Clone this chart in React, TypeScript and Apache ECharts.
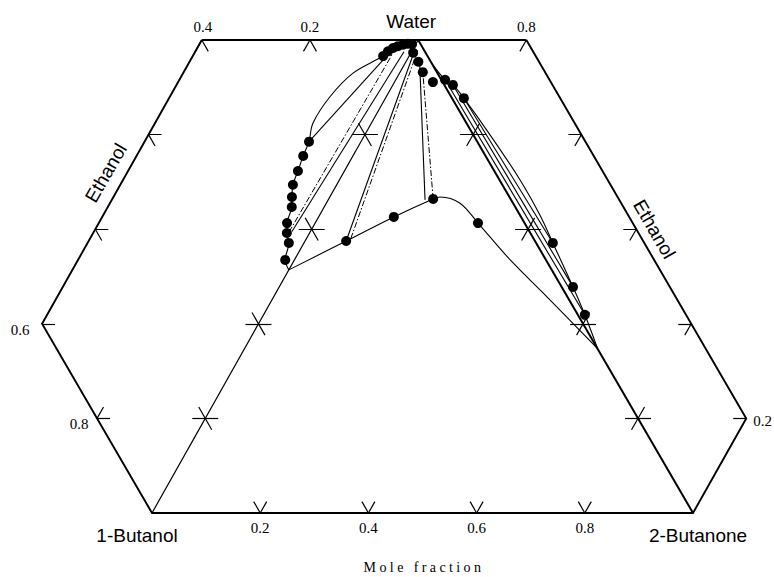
import React, { useEffect, useRef } from "react";
import * as echarts from "echarts";

// ---- Geometry of the folded ternary layout (cartesian units, side = 1) ----
const H = 0.866;
const W_X = 0.492; // x of the Water apex

// ---- DATA (mole fractions) ----
// Left triangle: Water / Ethanol / 1-Butanol  -> [water, ethanol]
const leftAqueousDots: number[][] = [
  [0.918, 0.048], [0.932, 0.044], [0.945, 0.038], [0.956, 0.031],
  [0.967, 0.023], [0.977, 0.015], [0.984, 0.007],
];
const leftOrganicDots: number[][] = [
  [0.689, 0.096], [0.663, 0.092], [0.637, 0.086], [0.613, 0.081], [0.598, 0.07],
  [0.587, 0.06], [0.561, 0.052], [0.55, 0.042], [0.543, 0.028], [0.518, 0.017],
];
const leftBinodal: number[][] = [
  [0.99, 0.0], [0.984, 0.007], [0.977, 0.015], [0.967, 0.023], [0.956, 0.031],
  [0.945, 0.038], [0.932, 0.044], [0.918, 0.048], [0.844, 0.086], [0.776, 0.104],
  [0.716, 0.108], [0.689, 0.096], [0.663, 0.092], [0.637, 0.086], [0.613, 0.081],
  [0.598, 0.07], [0.587, 0.06], [0.561, 0.052], [0.55, 0.042], [0.543, 0.028],
  [0.518, 0.017], [0.514, 0.0],
];
const leftTieExp: number[][][] = [
  [[0.689, 0.096], [0.914, 0.044]],
  [[0.561, 0.034], [0.961, 0.014]],
];
const leftTieCalc: number[][][] = [
  [[0.555, 0.039], [0.936, 0.033]],
];

// Central triangle: Water / 1-Butanol / 2-Butanone -> [water, 2-butanone]
const centralDots: number[][] = [
  [0.575, 0.076], [0.626, 0.139], [0.664, 0.193], [0.613, 0.301],
];
const centralAqueousDots: number[][] = [
  [0.973, 0.004], [0.954, 0.023], [0.932, 0.042], [0.911, 0.071],
];
const centralBinodal: number[][] = [
  [0.514, 0.0], [0.575, 0.076], [0.626, 0.139], [0.664, 0.193], [0.668, 0.204],
  [0.655, 0.247], [0.613, 0.301], [0.535, 0.399], [0.455, 0.508], [0.348, 0.652],
];
const centralTieExp: number[][][] = [
  [[0.575, 0.076], [0.98, 0.004]],
  [[0.662, 0.179], [0.947, 0.029]],
];
const centralTieCalc: number[][][] = [
  [[0.58, 0.082], [0.978, 0.01]],
  [[0.664, 0.193], [0.932, 0.042]],
];

// Right triangle: Water / Ethanol / 2-Butanone -> [water, ethanol]
const rightAqueousDots: number[][] = [[0.909, 0.007], [0.889, 0.016], [0.855, 0.022]];
const rightOrganicDots: number[][] = [[0.54, 0.031], [0.457, 0.021], [0.406, 0.013]];
const rightBinodal: number[][] = [
  [0.95, 0.0], [0.909, 0.007], [0.889, 0.016], [0.855, 0.022], [0.768, 0.031],
  [0.666, 0.038], [0.593, 0.037], [0.54, 0.031], [0.457, 0.021], [0.406, 0.013],
  [0.347, 0.0],
];
const rightTieExp: number[][][] = [
  [[0.909, 0.007], [0.406, 0.013]],
  [[0.889, 0.016], [0.457, 0.021]],
  [[0.855, 0.022], [0.54, 0.031]],
];

// Axis tick fractions and labels
const bottomTicks = [0.2, 0.4, 0.6, 0.8];
const bottomTickLabels = ["0.2", "0.4", "0.6", "0.8"];
const edgeTicks = [0.2, 0.4, 0.6, 0.8];

// ---- composition -> cartesian ----
const leftXY = ([w, e]: number[]) => [w * W_X + e * (W_X - 1), (w + e) * H];
const centralXY = ([w, k]: number[]) => [k + w * W_X, w * H];
const rightXY = ([w, e]: number[]) => {
  const k = 1 - w - e;
  return [k + w * W_X + e * (W_X + 1), (w + e) * H];
};

export default function App() {
  const ref = useRef<HTMLDivElement>(null);
  useEffect(() => {
    if (!ref.current) return;
    const chart = echarts.init(ref.current, undefined, { renderer: "svg" });

    const B = centralXY([0, 0]);
    const K = centralXY([0, 1]);
    const W = centralXY([1, 0]);
    const TL = leftXY([0.6, 0.4]);
    const L = leftXY([0, 0.4]);
    const TR = rightXY([0.8, 0.2]);
    const R = rightXY([0, 0.2]);

    const T = 0.024; // tick length
    const dH = [1, 0];
    const dUR = [0.5, H];
    const dUL = [-0.5, H];
    const add = (p: number[], d: number[], s: number) => [p[0] + d[0] * s, p[1] + d[1] * s];
    const seg = (a: number[], b: number[]) => ({ coords: [a, b] });

    const ticks: any[] = [];
    bottomTicks.forEach((f) => {
      const p = [f, 0];
      ticks.push(seg(p, add(p, dUR, T)), seg(p, add(p, dUL, T)));
    });
    edgeTicks.forEach((f) => {
      const p = centralXY([f, 0]);
      ticks.push(seg(add(p, dH, -T), add(p, dH, T)), seg(add(p, dUL, -T), add(p, dUL, T)));
      const q = centralXY([f, 1 - f]);
      ticks.push(seg(add(q, dH, -T), add(q, dH, T)), seg(add(q, dUR, -T), add(q, dUR, T)));
    });
    [0.2, 0.4].forEach((e) => {
      const p = leftXY([1 - e, e]);
      ticks.push(seg(p, add(p, dUR, -T)), seg(p, add(p, dUL, -T)));
    });
    ticks.push(seg(TR, add(TR, dUR, -T)));
    [0.2, 0.4].forEach((w) => {
      const p = leftXY([w, 0.4]);
      ticks.push(seg(p, add(p, dH, T)), seg(p, add(p, dUL, -T)));
    });
    ticks.push(seg(L, add(L, dH, T)));
    {
      const p = leftXY([0, 0.2]);
      ticks.push(seg(p, add(p, dH, T)), seg(p, add(p, dUR, T)));
    }
    [0.2, 0.4, 0.6].forEach((w) => {
      const p = rightXY([w, 0.2]);
      ticks.push(seg(p, add(p, dH, -T)), seg(p, add(p, dUR, -T)));
    });
    ticks.push(seg(R, add(R, dH, -T)));

    const outer = [
      { coords: [TL, TR] },
      { coords: [TR, R, K, B, L, TL] },
    ];

    const tie = (arr: number[][][], fn: any) => arr.map((s) => ({ coords: s.map(fn) }));
    const curve = (arr: number[][], fn: any) => ({
      type: "line",
      data: arr.map(fn),
      smooth: 0.35,
      showSymbol: false,
      clip: false,
      lineStyle: { color: "#000", width: 1.1 },
      silent: true,
    });
    const dots = (arr: number[][], fn: any) => ({
      type: "scatter",
      data: arr.map(fn),
      symbolSize: 10,
      itemStyle: { color: "#000", opacity: 1 },
      clip: false,
      silent: true,
      z: 5,
    });
    const edge = (a: number[], b: number[], width: number) => ({
      type: "lines",
      coordinateSystem: "cartesian2d",
      data: [{ coords: [a, b] }],
      lineStyle: { color: "#000", width, opacity: 1 },
      silent: true,
    });

    chart.setOption({
      animation: false,
      grid: { left: 41.1, right: 26.9, top: 40, bottom: 64 },
      xAxis: { type: "value", min: -0.205, max: 1.1, show: false },
      yAxis: { type: "value", min: 0, max: H, show: false },
      series: [
        {
          type: "lines",
          coordinateSystem: "cartesian2d",
          polyline: true,
          data: outer,
          lineStyle: { color: "#000", width: 1.9, opacity: 1 },
          silent: true,
        },
        edge(B, W, 1.2),
        edge(W, K, 2),
        {
          type: "lines",
          coordinateSystem: "cartesian2d",
          data: ticks,
          lineStyle: { color: "#000", width: 1.2, opacity: 1 },
          silent: true,
        },
        {
          type: "lines",
          coordinateSystem: "cartesian2d",
          data: [...tie(leftTieExp, leftXY), ...tie(centralTieExp, centralXY), ...tie(rightTieExp, rightXY)],
          lineStyle: { color: "#000", width: 1.1, opacity: 1 },
          silent: true,
        },
        {
          type: "lines",
          coordinateSystem: "cartesian2d",
          data: [...tie(leftTieCalc, leftXY), ...tie(centralTieCalc, centralXY)],
          lineStyle: { color: "#000", width: 1, opacity: 1, type: [6, 2, 1.5, 2] },
          silent: true,
        },
        curve(leftBinodal, leftXY),
        curve(centralBinodal, centralXY),
        curve(rightBinodal, rightXY),
        dots(leftAqueousDots, leftXY),
        dots(leftOrganicDots, leftXY),
        dots(centralDots, centralXY),
        dots(centralAqueousDots, centralXY),
        dots(rightAqueousDots, rightXY),
        dots(rightOrganicDots, rightXY),
      ],
    });

    const px = (p: number[]) => chart.convertToPixel({ gridIndex: 0 }, p) as number[];
    const serif = '15px "Liberation Serif", "Times New Roman", serif';
    const sans = '19px "Liberation Sans", Arial, sans-serif';
    const txt = (text: string, p: number[], dx: number, dy: number, font: string, align = "center", rot = 0) => ({
      type: "text",
      x: p[0] + dx,
      y: p[1] + dy,
      rotation: rot,
      silent: true,
      style: {
        text,
        x: 0,
        y: 0,
        font,
        fill: "#000",
        align,
        textAlign: align,
        verticalAlign: "middle",
        textVerticalAlign: "middle",
      },
    });
    const g: any[] = [];
    bottomTicks.forEach((f, i) => g.push(txt(bottomTickLabels[i], px([f, 0]), 0, 15, serif)));
    g.push(txt("0.4", px(TL), 1, -13, serif));
    g.push(txt("0.2", px(leftXY([0.8, 0.2])), 0, -13, serif));
    g.push(txt("0.8", px(TR), 0, -13, serif));
    g.push(txt("0.6", px(L), -22, 6, serif));
    g.push(txt("0.8", px(leftXY([0, 0.2])), -18, 6, serif));
    g.push(txt("0.2", px(R), 7, 3, serif, "left"));
    g.push(txt("Water", px(W), -7, -19, sans));
    g.push(txt("1-Butanol", px(B), -15, 22, sans));
    g.push(txt("2-Butanone", px(K), 5, 22, sans));
    const mL = px(leftXY([0.3, 0.4]));
    g.push(txt("Ethanol", mL, -16, -9, sans, "center", Math.PI / 3));
    const mR = px(rightXY([0.4, 0.2]));
    g.push(txt("Ethanol", mR, 18, 0, sans, "center", -Math.PI / 3));
    g.push(txt("Mole fraction", [424, 567], 0, 0, '14px "Liberation Serif", "Times New Roman", serif'));
    chart.setOption({ graphic: { elements: g } });

    const spacing = () => {
      ref.current?.querySelectorAll("text").forEach((t) => {
        if (t.textContent === "Mole fraction") {
          (t as SVGTextElement).style.letterSpacing = "3.4px";
        }
      });
    };
    spacing();
    chart.on("finished", spacing);
    const raf = requestAnimationFrame(spacing);

    return () => {
      cancelAnimationFrame(raf);
      chart.dispose();
    };
  }, []);

  return (
    <div
      ref={ref}
      style={{ position: "fixed", left: 0, top: 0, width: 774, height: 577, background: "#fff" }}
    />
  );
}
